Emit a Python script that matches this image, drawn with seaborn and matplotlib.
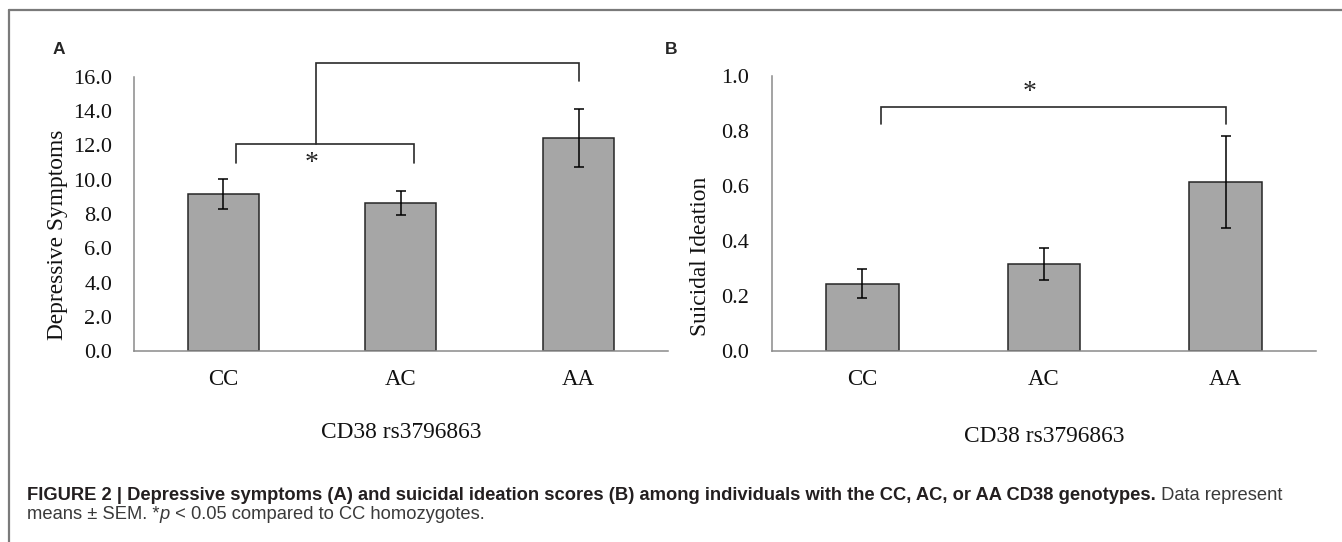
import matplotlib
matplotlib.use("Agg")
import matplotlib.pyplot as plt
from matplotlib.lines import Line2D
import seaborn as sns
import pandas as pd

genotypes = ["CC", "AC", "AA"]
depr_mean = [9.15, 8.65, 12.45]
depr_sem = [0.87, 0.70, 1.69]
suic_mean = [0.245, 0.316, 0.615]
suic_sem = [0.053, 0.058, 0.167]

W, H = 1342, 542
sns.set_style("white")
plt.rcParams["font.family"] = ["Liberation Serif", "DejaVu Serif"]

fig = plt.figure(figsize=(W / 100, H / 100), dpi=100)

AXIS_GREY = "#8a8a8a"
BAR_GREY = "#a6a6a6"
EDGE = "#262626"


def fx(px):
    return px / W


def fy(py):
    return 1 - py / H


def panel(rect, means, sems, ymax, step, ylabel, ylab_pos, xlab_y):
    ax = fig.add_axes(rect)
    df = pd.DataFrame({"genotype": genotypes, "value": means})
    sns.barplot(data=df, x="genotype", y="value", ax=ax, color=BAR_GREY,
                saturation=1, width=0.4, edgecolor=EDGE, linewidth=1.1,
                errorbar=None)
    ax.errorbar(range(len(means)), means, yerr=sems, fmt="none",
                ecolor="black", elinewidth=1.1, capsize=3.3, capthick=1.1)
    ax.set_xlim(-0.5, 2.5)
    ax.set_ylim(0, ymax)
    ticks = [i * step for i in range(int(round(ymax / step)) + 1)]
    ax.set_yticks(ticks)
    ax.set_yticklabels([f"{t:.1f}" for t in ticks])
    ax.set_xticks(range(3))
    ax.set_xticklabels(genotypes)
    ax.set_xticks([-0.5, 0.5, 1.5, 2.5], minor=True)
    ax.tick_params(axis="x", which="major", length=0, pad=13, labelsize=16.5,
                   labelcolor="#111111")
    ax.tick_params(axis="x", which="minor", length=5, width=1.1,
                   color=AXIS_GREY, direction="out")
    ax.tick_params(axis="y", length=5, width=1.1, color=AXIS_GREY,
                   direction="out", pad=11, labelsize=16, labelcolor="#111111")
    for s in ["top", "right"]:
        ax.spines[s].set_visible(False)
    for s in ["left", "bottom"]:
        ax.spines[s].set_color(AXIS_GREY)
        ax.spines[s].set_linewidth(1.1)
    ax.set_xlabel("")
    ax.set_ylabel("")
    fig.text(fx(ylab_pos[0]), fy(ylab_pos[1]), ylabel, rotation=90,
             ha="center", va="center", fontsize=16.8, color="#111111")
    cx = rect[0] + rect[2] / 2
    fig.text(cx, fy(xlab_y), "CD38 rs3796863", ha="center", va="center",
             fontsize=16.8, color="#111111")
    return ax


# panel A
axA = panel([fx(134.3), fy(351.4), fx(667.5 - 134.3), (351.4 - 76.7) / H],
            depr_mean, depr_sem, 16, 2, "Depressive Symptoms", (58, 235), 432)
br = dict(color="#2a2a2a", lw=1.2, clip_on=False, solid_joinstyle="miter")
axA.plot([0.075, 0.075, 1.076, 1.076], [11.0, 12.06, 12.06, 11.0], **br)
axA.plot([0.52, 0.52, 2.0, 2.0], [12.06, 16.8, 16.8, 15.77], **br)
axA.text(0.50, 10.95, "*", ha="center", va="center", fontsize=20)

# panel B
axB = panel([fx(771.6), fy(351.0), fx(1316.3 - 771.6), (351.0 - 76.0) / H],
            suic_mean, suic_sem, 1.0, 0.2, "Suicidal Ideation", (701, 256), 436)
axB.plot([0.10, 0.10, 2.0, 2.0], [0.827, 0.887, 0.887, 0.827], **br)
axB.text(0.92, 0.94, "*", ha="center", va="center", fontsize=20)

# panel letters
for lx, letter in [(53, "A"), (665, "B")]:
    fig.text(fx(lx), fy(42), letter, ha="left", va="top", fontsize=12.5,
             fontweight="bold", family=["Liberation Sans", "DejaVu Sans"])

# frame lines (top and left)
fig.add_artist(Line2D([fx(9), 1], [fy(10), fy(10)], color="#7a7a7a", lw=1.6))
fig.add_artist(Line2D([fx(9), fx(9)], [fy(10), 0], color="#7a7a7a", lw=1.6))

# caption
sans = ["Liberation Sans", "DejaVu Sans"]
bold_txt = ("FIGURE 2 | Depressive symptoms (A) and suicidal ideation scores (B) "
            "among individuals with the CC, AC, or AA CD38 genotypes.")
fs = 11
t1 = fig.text(fx(27), fy(499.5), bold_txt, ha="left", va="baseline", fontsize=fs,
              fontweight="bold", family=sans, color="#231f20")
fig.canvas.draw()
r = fig.canvas.get_renderer()
bb = t1.get_window_extent(r)
fs = fs * (1159 - 27) / bb.width
t1.set_fontsize(fs)
fig.canvas.draw()


def after(t, s, **kw):
    e = t.get_window_extent(r)
    nt = fig.text(e.x1 / W, t.get_position()[1], s, ha="left", va="baseline",
                  fontsize=fs, family=sans, color="#3a3a3a", **kw)
    fig.canvas.draw()
    return nt


after(t1, " Data represent")
t2 = fig.text(fx(27), fy(519), "means \u00b1 SEM. *", ha="left", va="baseline",
              fontsize=fs, family=sans, color="#3a3a3a")
fig.canvas.draw()
t3 = after(t2, "p", style="italic")
after(t3, " < 0.05 compared to CC homozygotes.")

fig.savefig("out.png", dpi=100)
